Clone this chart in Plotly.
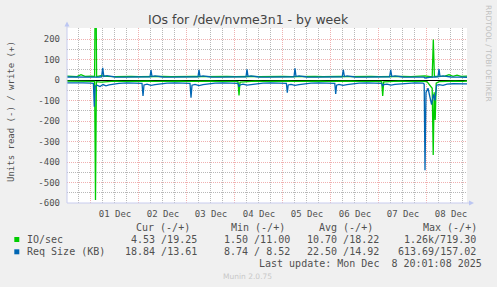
import pandas as pd
import plotly.graph_objects as go

# ---------------- data (hours since graph start) ----------------
START = pd.Timestamp("2025-11-30 12:01:08")
END = START + pd.Timedelta(hours=200)

# IO/sec write (+)
io_write_h = [0, 2, 5, 7, 9, 12, 13.8, 14.3, 14.8, 17, 20,
              24, 28, 32, 36, 40, 44, 48, 52, 56, 60,
              64, 68, 72, 76, 80, 84, 88, 92, 96, 100,
              104, 108, 112, 116, 120, 124, 128, 132, 136, 140,
              144, 148, 152, 156, 160, 164, 168, 172, 176, 179,
              182.6, 183.15, 183.7, 186, 189, 191, 193, 195, 197, 200]
io_write = [19, 18, 17, 26, 18, 19, 18, 719.3, 17, 22, 18,
            17, 19, 18, 17, 18, 19, 18, 17, 18, 19,
            18, 17, 18, 19, 18, 17, 19, 18, 17, 18,
            19, 18, 17, 18, 19, 18, 17, 19, 18, 17,
            18, 19, 18, 17, 18, 19, 18, 17, 18, 20,
            15, 198, 18, 17, 19, 26, 18, 24, 18, 19.25]

# IO/sec read (-)
io_read_h = [0, 4, 8, 12, 13.8, 14.25, 14.7, 17, 20, 24,
             28, 32, 36, 40, 44, 48, 52, 56, 60, 64,
             68, 72, 76, 80, 84, 85.5, 86, 86.5, 90, 94,
             98, 102, 106, 110, 114, 118, 122, 126, 130, 134,
             138, 142, 146, 150, 154, 157.35, 157.85, 158.35, 162, 166,
             170, 174, 178, 180, 181.5, 182.6, 183.1, 183.6, 184.1, 184.6,
             186, 190, 194, 198, 200]
io_read = [5, 6, 5, 6, 6, 585, 8, 10, 7, 5,
           6, 5, 6, 5, 6, 5, 6, 5, 6, 5,
           6, 5, 6, 5, 6, 8, 75, 10, 6, 5,
           6, 5, 6, 5, 6, 5, 6, 5, 6, 5,
           6, 5, 6, 5, 6, 7, 78, 9, 6, 5,
           6, 5, 6, 8, 30, 40, 366, 60, 195, 15,
           8, 6, 5, 6, 4.53]

# Req Size (KB) write (+)
req_write_h = [0, 4, 8, 12, 16, 17.3, 17.85, 18.4, 20, 24,
               28, 32, 36, 40, 41.5, 42, 42.5, 44, 48, 52,
               56, 60, 64, 65.5, 66, 66.5, 68, 72, 76, 80,
               84, 88, 89.5, 90, 90.5, 92, 96, 100, 104, 108,
               112, 113.5, 114, 114.5, 116, 120, 124, 128, 132, 136,
               137.6, 138.15, 138.7, 140, 144, 148, 152, 156, 160, 161.3,
               161.85, 162.4, 164, 168, 172, 176, 178.5, 179, 180, 182,
               184, 185.5, 186, 186.5, 188, 192, 196, 200]
req_write = [15, 14, 15, 14, 15, 16, 60, 18, 22, 15,
             14, 15, 14, 15, 16, 48, 17, 20, 15, 14,
             15, 14, 15, 16, 50, 17, 20, 15, 14, 15,
             14, 15, 16, 52, 17, 20, 15, 14, 15, 14,
             15, 16, 57, 17, 20, 15, 14, 15, 14, 15,
             16, 50, 17, 20, 15, 14, 15, 14, 15, 16,
             50, 17, 20, 15, 14, 15, 14, 10, 12, 14,
             15, 16, 53, 17, 20, 15, 14, 13.61]

# Req Size (KB) read (-)
req_read_h = [0, 4, 8, 12, 13.2, 13.65, 14.1, 15, 16.5, 18,
              19.5, 21, 23, 26, 30, 34, 37.5, 38, 38.5, 40,
              42, 44, 47, 50, 54, 58, 61.5, 62, 62.5, 64,
              66, 68, 71, 74, 78, 82, 85.5, 86, 86.5, 88,
              90, 92, 95, 98, 102, 106, 109.7, 110.15, 110.6, 112,
              114, 116, 119, 122, 126, 130, 133.9, 134.35, 134.8, 136,
              138, 140, 143, 146, 150, 154, 157.4, 157.85, 158.3, 160,
              162, 164, 167, 170, 174, 178, 178.6, 179, 179.5, 180.5,
              181.5, 182.3, 183.2, 184, 184.8, 186, 188, 190, 193, 196,
              200]
req_read = [14, 13, 14, 15, 16, 130, 30, 25, 32, 22,
            28, 24, 20, 16, 14, 15, 16, 77, 24, 20,
            26, 22, 18, 15, 14, 15, 16, 86, 25, 21,
            27, 22, 18, 15, 14, 15, 16, 33, 24, 20,
            25, 22, 18, 15, 14, 15, 16, 62, 24, 21,
            26, 22, 18, 15, 14, 15, 16, 68, 25, 21,
            26, 22, 18, 15, 14, 15, 16, 30, 22, 20,
            25, 21, 18, 15, 14, 15, 20, 440, 60, 40,
            90, 120, 70, 100, 25, 22, 26, 20, 18, 19,
            18.84]

day_labels = ["01 Dec", "02 Dec", "03 Dec", "04 Dec", "05 Dec", "06 Dec", "07 Dec", "08 Dec"]
day_starts = ["2025-12-01", "2025-12-02", "2025-12-03", "2025-12-04",
              "2025-12-05", "2025-12-06", "2025-12-07", "2025-12-08"]
y_ticks = [-600, -500, -400, -300, -200, -100, 0, 100, 200]
Y_RANGE = [-600, 254]

series_names = ["IO/sec", "Req Size (KB)"]
stat_headers = ["Cur (-/+)", "Min (-/+)", "Avg (-/+)", "Max (-/+)"]
io_stats_read = ["4.53", "1.50", "10.70", "1.26k"]
io_stats_write = ["19.25", "11.00", "18.22", "719.30"]
req_stats_read = ["18.84", "8.74", "22.50", "613.69"]
req_stats_write = ["13.61", "8.52", "14.92", "157.02"]
last_update = "Last update: Mon Dec  8 20:01:08 2025"

# ---------------- styling ----------------
W, H = 497, 287
L, R, T, B = 67, 467, 28, 203
GREEN = "#00CC00"
BLUE = "#0066B3"
MAJOR = "#F0B0B0"
MINOR = "#B8B8B8"
DOT = "1px,1px"
TXT = "#505050"
AXIS = "#C8CCEE"
MONO = "DejaVu Sans Mono"
SANS = "DejaVu Sans"


def px(x):
    return (x - L) / (R - L)


def py(y):
    return (B - y) / (B - T)


def ts(hours):
    return [START + pd.Timedelta(hours=h) for h in hours]


fig = go.Figure()
for hrs, vals, col, sign in [(io_read_h, io_read, GREEN, -1), (io_write_h, io_write, GREEN, 1),
                             (req_read_h, req_read, BLUE, -1), (req_write_h, req_write, BLUE, 1)]:
    fig.add_trace(go.Scatter(x=ts(hrs), y=[sign * v for v in vals], mode="lines",
                             line=dict(color=col, width=1.3), hoverinfo="skip", showlegend=False))

# invisible traces hosting the overlay axes (major grid / labels)
for xa, ya in [("x2", "y2"), ("x3", "y2")]:
    fig.add_trace(go.Scatter(x=[START, END], y=[0, 0], xaxis=xa, yaxis=ya, mode="lines",
                             line=dict(width=0), opacity=0, hoverinfo="skip", showlegend=False))

midnights = [pd.Timestamp(d) for d in day_starts]
noons = [d + pd.Timedelta(hours=12) for d in midnights]
six_hours = [d + pd.Timedelta(hours=k) for d in [midnights[0] - pd.Timedelta(days=1)] + midnights
             for k in (6, 12, 18)]

fig.update_layout(
    width=W, height=H,
    margin=dict(l=L, r=W - R, t=T, b=H - B, pad=0),
    paper_bgcolor="#F0F0F0", plot_bgcolor="#FFFFFF",
    showlegend=False,
    # minor (6 h) grid
    xaxis=dict(type="date", range=[START, END], tickmode="array", tickvals=six_hours,
               showticklabels=False, ticks="", showgrid=True,
               gridcolor=MINOR, gridwidth=1, griddash=DOT, zeroline=False, showline=False),
    # major (daily) grid
    xaxis2=dict(type="date", overlaying="x", matches="x", tickmode="array", tickvals=midnights,
                showticklabels=False, ticks="", showgrid=True, gridcolor=MAJOR, gridwidth=1,
                griddash=DOT, zeroline=False, showline=False),
    # day labels at noon
    xaxis3=dict(type="date", overlaying="x", matches="x", side="bottom", tickmode="array",
                tickvals=noons, ticktext=day_labels, showgrid=False, ticks="", zeroline=False,
                showline=False, tickfont=dict(family=MONO, size=9, color=TXT), ticklabelstandoff=4),
    yaxis=dict(range=Y_RANGE, tickmode="array", tickvals=[v + 50 for v in y_ticks],
               showticklabels=False,
               showgrid=True, gridcolor=MINOR, gridwidth=1, griddash=DOT, zeroline=False,
               ticks="", showline=False),
    yaxis2=dict(overlaying="y", matches="y", side="left", tickmode="array", tickvals=y_ticks,
                ticktext=[str(v) for v in y_ticks], showgrid=True, gridcolor=MAJOR, gridwidth=1,
                griddash=DOT, zeroline=True, zerolinecolor="#000000", zerolinewidth=1,
                ticks="", showline=False, tickfont=dict(family=MONO, size=9, color=TXT),
                ticklabelstandoff=6),
)

ann = []
ann.append(dict(text="IOs for /dev/nvme3n1 - by week", x=px(248.7), y=py(19.5), xref="paper", yref="paper",
                xanchor="center", yanchor="middle", showarrow=False,
                font=dict(family=SANS, size=12.5, color="#444444")))
ann.append(dict(text="Units read (-) / write (+)", x=px(11), y=py(111), xref="paper", yref="paper",
                xanchor="center", yanchor="middle", showarrow=False, textangle=-90,
                font=dict(family=MONO, size=9, color=TXT)))
ann.append(dict(text="RRDTOOL / TOBI OETIKER", x=px(488.5), y=py(53.5), xref="paper", yref="paper",
                xanchor="center", yanchor="middle", showarrow=False, textangle=90,
                font=dict(family=SANS, size=7.5, color="#C0C0C0")))
ann.append(dict(text="Munin 2.0.75", x=px(247.7), y=py(276), xref="paper", yref="paper",
                xanchor="center", yanchor="middle", showarrow=False,
                font=dict(family=SANS, size=7.5, color="#C8C8C8")))

LEG = dict(family=MONO, size=10, color=TXT)
NB = "\u00a0"


def txt(t, x, y, anchor):
    ann.append(dict(text=t.replace(" ", NB), x=px(x), y=py(y), xref="paper", yref="paper",
                    xanchor=anchor, yanchor="middle", showarrow=False, borderpad=0, font=LEG))


header_x = [134.5, 229.5, 318, 422]
col_end = [197.5, 291, 380.3, 477.4]
row_y = [239.3, 251.6]
for hx, hd in zip(header_x, stat_headers):
    txt(hd, hx, 227.3, "left")
for name, ry in zip(series_names, row_y):
    txt(name, 25.7, ry, "left")
for reads, writes, ry in [(io_stats_read, io_stats_write, row_y[0]),
                          (req_stats_read, req_stats_write, row_y[1])]:
    for i in range(4):
        r, w = reads[i], writes[i]
        if i < 3:
            txt(r + " /" + w.rjust(5), col_end[i], ry, "right")
        else:
            txt(r + "/" + w, col_end[i], ry, "right")
txt(last_update, 483, 263.3, "right")

fig.update_layout(annotations=ann)

shapes = []
# legend swatches
for col, ry in zip([GREEN, BLUE], row_y):
    shapes.append(dict(type="rect", xref="paper", yref="paper", x0=px(14.3), x1=px(19.3),
                       y0=py(ry - 2.3), y1=py(ry + 2.7), fillcolor=col, line=dict(width=0)))
# axis lines with arrows
shapes.append(dict(type="line", xref="paper", yref="paper", x0=px(67), x1=px(67), y0=py(203), y1=py(26),
                   line=dict(color=AXIS, width=1)))
shapes.append(dict(type="line", xref="paper", yref="paper", x0=px(67), x1=px(469), y0=py(203), y1=py(203),
                   line=dict(color=AXIS, width=1)))
shapes.append(dict(type="path", xref="paper", yref="paper",
                   path=f"M {px(64.5)},{py(26.5)} L {px(69.5)},{py(26.5)} L {px(67)},{py(21.5)} Z",
                   fillcolor="#BCC6F2", line=dict(width=0)))
shapes.append(dict(type="path", xref="paper", yref="paper",
                   path=f"M {px(469)},{py(200.5)} L {px(469)},{py(205.5)} L {px(474)},{py(203)} Z",
                   fillcolor="#BCC6F2", line=dict(width=0)))
fig.update_layout(shapes=shapes)

fig.write_html("out.html")
